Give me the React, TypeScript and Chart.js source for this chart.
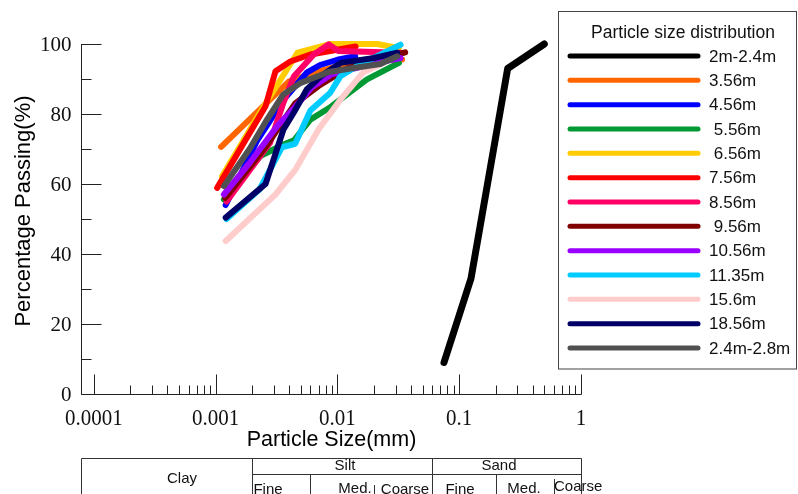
import React, { useEffect, useRef } from "react";
import { Chart, registerables } from "chart.js";

Chart.register(...registerables);

// ---- particle size (mm) / percentage passing for each depth ----
const size_2m = [0.075, 0.125, 0.25, 0.5];
const pass_2m = [9, 33, 93, 100];

const size_356 = [0.00111, 0.004, 0.006, 0.011, 0.02, 0.034];
const pass_356 = [70.6, 89.3, 91.5, 94, 95.2, 95.6];

const size_456 = [0.00121, 0.0022, 0.0036, 0.0056, 0.0072, 0.01, 0.014];
const pass_456 = [54, 72.5, 84, 91.8, 94, 95.5, 96.5];

const size_556 = [0.00117, 0.00233, 0.0036, 0.0044, 0.006, 0.0088, 0.012, 0.0175, 0.032];
const pass_556 = [55.6, 68, 71.3, 72.5, 78.4, 82, 85.6, 89.9, 94.6];

const size_656 = [0.00113, 0.0024, 0.0047, 0.0088, 0.0213, 0.032];
const pass_656 = [62.2, 81.3, 97.5, 100, 100, 98.8];

const size_756 = [0.00103, 0.00257, 0.0031, 0.0041, 0.006, 0.0141];
const pass_756 = [58.9, 82.2, 92.2, 95, 97, 99.3];

const size_856 = [0.00123, 0.0028, 0.0036, 0.0044, 0.0064, 0.0085, 0.0102, 0.033];
const pass_856 = [55, 71.8, 83.2, 90.8, 97, 99.9, 98, 97.5];

const size_956 = [0.0012, 0.0025, 0.0045, 0.007, 0.012, 0.02, 0.036];
const pass_956 = [56, 70, 83, 88, 93, 95, 97.6];

const size_1056 = [0.00117, 0.0019, 0.0032, 0.0045, 0.0061, 0.0089, 0.012, 0.02, 0.033];
const pass_1056 = [57, 66, 76.5, 82, 87.5, 91.3, 92.5, 94.5, 96];

const size_1135 = [0.00123, 0.0023, 0.0035, 0.0045, 0.006, 0.0087, 0.0106, 0.0145, 0.033];
const pass_1135 = [50, 58.5, 70.5, 71.5, 81, 86, 90.8, 93.7, 99.8];

const size_156 = [0.00121, 0.0031, 0.0045, 0.007, 0.0106, 0.0163, 0.0234];
const pass_156 = [43.7, 57, 64, 75.6, 84.1, 91.9, 94.4];

const size_1856 = [0.00121, 0.00257, 0.0036, 0.0044, 0.0056, 0.0073, 0.0106, 0.02, 0.031];
const pass_1856 = [50.4, 60, 75.5, 80.5, 87, 90.8, 94.6, 96, 97.5];

const size_24m = [0.00117, 0.0019, 0.0026, 0.0036, 0.005, 0.0085, 0.014, 0.0225, 0.031];
const pass_24m = [59.4, 70, 78, 85.6, 88.9, 92, 93.2, 94.3, 96.5];

const seriesLabels = [
  "2m-2.4m", "3.56m", "4.56m", " 5.56m", " 6.56m", "7.56m", "8.56m",
  " 9.56m", "10.56m", "11.35m", "15.6m", "18.56m", "2.4m-2.8m",
];
const seriesColors = [
  "#000000", "#FF6600", "#0000FF", "#009933", "#FFCC00", "#FF0000", "#FF0066",
  "#800000", "#9900FF", "#00CCFF", "#FFCCCC", "#000066", "#505050",
];
const seriesSizes = [
  size_2m, size_356, size_456, size_556, size_656, size_756, size_856,
  size_956, size_1056, size_1135, size_156, size_1856, size_24m,
];
const seriesPass = [
  pass_2m, pass_356, pass_456, pass_556, pass_656, pass_756, pass_856,
  pass_956, pass_1056, pass_1135, pass_156, pass_1856, pass_24m,
];

// axis ticks
const xDecades = [0.0001, 0.001, 0.01, 0.1, 1];
const xTickLabels = ["0.0001", "0.001", "0.01", "0.1", "1"];
const yMajor = [0, 20, 40, 60, 80, 100];
const yMinor = [10, 30, 50, 70, 90];

// soil classification boundaries (mm)
const clayLimit = 0.002;
const siltLimits = [0.006, 0.02];
const sandLimit = 0.06;
const sandLimits = [0.2, 0.6];

const W = 798;
const H = 494;
const AXIS = "#222";
const SANS = '"Liberation Sans", Arial, sans-serif';
const SERIF = '"Liberation Serif", "Times New Roman", serif';

const framePlugin = {
  id: "gradingFrame",
  beforeDatasetsDraw(chart: any) {
    const { ctx, chartArea } = chart;
    const xs = chart.scales.x;
    const ys = chart.scales.y;
    const L = Math.round(chartArea.left) + 0.5;
    const R = Math.round(chartArea.right) + 0.5;
    const B = Math.round(chartArea.bottom) + 0.5;
    const T = Math.round(chartArea.top);
    ctx.save();
    ctx.strokeStyle = AXIS;
    ctx.lineWidth = 1;
    ctx.beginPath();
    // left axis line and bottom axis line
    ctx.moveTo(L, T);
    ctx.lineTo(L, B);
    ctx.lineTo(R, B);
    // y ticks (inward)
    yMajor.forEach((v) => {
      const py = Math.round(ys.getPixelForValue(v)) + 0.5;
      ctx.moveTo(L, py);
      ctx.lineTo(L + 20, py);
    });
    yMinor.forEach((v) => {
      const py = Math.round(ys.getPixelForValue(v)) + 0.5;
      ctx.moveTo(L, py);
      ctx.lineTo(L + 10, py);
    });
    // x ticks (inward, log)
    xDecades.forEach((d, i) => {
      const px = Math.round(xs.getPixelForValue(d)) + 0.5;
      ctx.moveTo(px, B);
      ctx.lineTo(px, B - 20);
      if (i < xDecades.length - 1) {
        for (let m = 2; m <= 9; m++) {
          const qx = Math.round(xs.getPixelForValue(d * m)) + 0.5;
          ctx.moveTo(qx, B);
          ctx.lineTo(qx, B - 9);
        }
      }
    });
    ctx.stroke();

    // tick labels
    ctx.fillStyle = "#111";
    ctx.font = `21px ${SERIF}`;
    ctx.textAlign = "right";
    ctx.textBaseline = "middle";
    yMajor.forEach((v) => {
      ctx.fillText(String(v), L - 10, ys.getPixelForValue(v) + 1);
    });
    ctx.textAlign = "center";
    xDecades.forEach((d, i) => {
      const px = xs.getPixelForValue(d);
      ctx.save();
      ctx.translate(px, 419);
      ctx.scale(1, 1.12);
      ctx.fillText(xTickLabels[i], 0, 0);
      ctx.restore();
    });

    // axis titles
    ctx.fillStyle = "#000";
    ctx.font = `21.5px ${SANS}`;
    ctx.fillText("Particle Size(mm)", (L + R) / 2, 440);
    ctx.save();
    ctx.translate(24, 211);
    ctx.rotate(-Math.PI / 2);
    ctx.font = `22px ${SANS}`;
    ctx.fillText("Percentage Passing(%)", 0, 0);
    ctx.restore();

    // classification table beneath the axis
    const tTop = 458.5;
    const tMid = 474.5;
    const px = (v: number) => Math.round(xs.getPixelForValue(v)) + 0.5;
    ctx.strokeStyle = "#333";
    ctx.beginPath();
    ctx.moveTo(L, H);
    ctx.lineTo(L, tTop);
    ctx.lineTo(R, tTop);
    ctx.lineTo(R, H);
    ctx.moveTo(px(clayLimit), tTop);
    ctx.lineTo(px(clayLimit), H);
    ctx.moveTo(px(sandLimit), tTop);
    ctx.lineTo(px(sandLimit), H);
    ctx.moveTo(px(clayLimit), tMid);
    ctx.lineTo(R, tMid);
    ctx.moveTo(px(siltLimits[0]), tMid);
    ctx.lineTo(px(siltLimits[0]), H);
    ctx.moveTo(px(siltLimits[1]), 485);
    ctx.lineTo(px(siltLimits[1]), H);
    ctx.moveTo(px(sandLimits[0]), tMid);
    ctx.lineTo(px(sandLimits[0]), H);
    ctx.moveTo(px(sandLimits[1]), 479);
    ctx.lineTo(px(sandLimits[1]), H);
    ctx.stroke();

    ctx.fillStyle = "#111";
    ctx.font = `15px ${SANS}`;
    ctx.textAlign = "center";
    ctx.textBaseline = "middle";
    ctx.fillText("Clay", 182, 479);
    ctx.fillText("Silt", 345, 466);
    ctx.fillText("Sand", 499, 466);
    ctx.fillText("Fine", 268, 490);
    ctx.fillText("Med.", 355, 489);
    ctx.fillText("Coarse", 405, 490);
    ctx.fillText("Fine", 460, 490);
    ctx.fillText("Med.", 524, 489);
    ctx.textAlign = "left";
    ctx.fillText("Coarse", 554, 487);
    ctx.restore();
  },
  afterDraw(chart: any) {
    const { ctx } = chart;
    ctx.save();
    // legend box
    ctx.fillStyle = "#fff";
    ctx.fillRect(558.5, 11.5, 238, 357.5);
    ctx.strokeStyle = "#444";
    ctx.lineWidth = 1;
    ctx.strokeRect(558.5, 11.5, 238, 357.5);
    ctx.fillStyle = "#111";
    ctx.font = `17.5px ${SANS}`;
    ctx.textAlign = "center";
    ctx.textBaseline = "middle";
    ctx.fillText("Particle size distribution", 683, 33);
    ctx.textAlign = "left";
    ctx.font = `17px ${SANS}`;
    chart.data.datasets.forEach((ds: any, i: number) => {
      const ry = 56 + i * 24.33;
      ctx.strokeStyle = ds.borderColor;
      ctx.lineWidth = 5;
      ctx.lineCap = "round";
      ctx.beginPath();
      ctx.moveTo(570, ry);
      ctx.lineTo(698, ry);
      ctx.stroke();
      ctx.fillText(ds.label, 709, ry + 1);
    });
    ctx.restore();
  },
};

export default function App() {
  const canvasRef = useRef<HTMLCanvasElement | null>(null);

  useEffect(() => {
    const canvas = canvasRef.current;
    if (!canvas) return;
    const n = seriesLabels.length;
    const datasets = seriesLabels.map((label, i) => ({
      label,
      data: seriesSizes[i].map((s, k) => ({ x: s, y: seriesPass[i][k] })),
      borderColor: seriesColors[i],
      backgroundColor: seriesColors[i],
      borderWidth: i === 0 ? 7 : 6,
      borderCapStyle: "round" as const,
      borderJoinStyle: "round" as const,
      pointRadius: 0,
      pointHoverRadius: 0,
      tension: 0,
      fill: false,
      clip: false as const,
      order: n - i,
    }));
    const chart = new Chart(canvas, {
      type: "line",
      data: { datasets },
      options: {
        animation: false,
        responsive: false,
        devicePixelRatio: 1,
        parsing: true,
        events: [],
        layout: { padding: { left: 81, right: 217, top: 44, bottom: 100 } },
        scales: {
          x: { type: "logarithmic", min: 7.85e-5, max: 1, display: false },
          y: { type: "linear", min: 0, max: 100, display: false },
        },
        plugins: {
          legend: { display: false },
          tooltip: { enabled: false },
        },
      },
      plugins: [framePlugin],
    });
    return () => chart.destroy();
  }, []);

  return (
    <div style={{ position: "fixed", left: 0, top: 0, width: W, height: H, background: "#fff" }}>
      <canvas ref={canvasRef} width={W} height={H} style={{ display: "block" }} />
    </div>
  );
}
